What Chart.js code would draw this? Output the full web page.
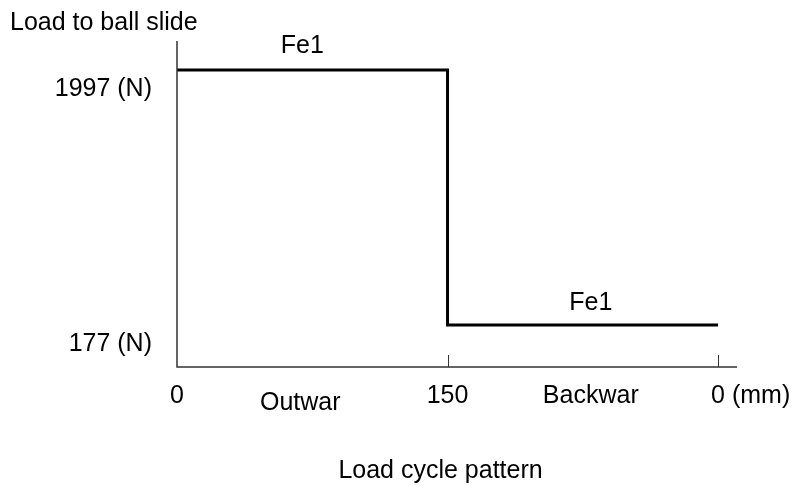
<!DOCTYPE html>
<html>
<head>
<meta charset="utf-8">
<script src="https://cdn.jsdelivr.net/npm/chart.js@4.4.1/dist/chart.umd.min.js"></script>
<style>
  html, body { margin: 0; padding: 0; background: #fff; }
  #wrap { width: 802px; height: 486px; position: relative; }
</style>
</head>
<body>
<div id="wrap"><canvas id="myChart"></canvas></div>
<script>
// stroke position (mm) and load (N) at each step
const positions = [0, 150, 300];
const loads = [1997, 177, 177];

// tick values along the stroke and what gets printed under them
const xTicks = [0, 150, 300];
const xTickLabels = ["0", "150", "0 (mm)"];
const yTicks = [1997, 177];
const yTickLabels = ["1997 (N)", "177 (N)"];

// phase names, centred between ticks
const phases = ["Outwar", "Backwar"];
const segmentLabels = ["Fe1", "Fe1"];

const FONT = "25px 'Liberation Sans', Arial, sans-serif";

const axesPlugin = {
  id: "customAxes",
  afterDraw(chart) {
    const { ctx, chartArea: area, scales: { x, y } } = chart;
    ctx.save();

    // axis lines
    ctx.strokeStyle = "#333";
    ctx.lineWidth = 1.5;
    ctx.beginPath();
    ctx.moveTo(area.left, area.top);
    ctx.lineTo(area.left, area.bottom);
    ctx.lineTo(area.right, area.bottom);
    ctx.stroke();

    // small inward ticks (skip the one sitting on the y axis)
    ctx.lineWidth = 1;
    xTicks.slice(1).forEach((v) => {
      const px = Math.round(x.getPixelForValue(v)) + 0.5;
      ctx.beginPath();
      ctx.moveTo(px, area.bottom);
      ctx.lineTo(px, area.bottom - 12);
      ctx.stroke();
    });

    ctx.fillStyle = "#000";
    ctx.font = FONT;
    ctx.textBaseline = "alphabetic";

    // x tick labels; the last one keeps its number under the tick
    const tickBase = area.bottom + 36;
    xTicks.forEach((v, i) => {
      const px = x.getPixelForValue(v);
      if (i === xTicks.length - 1) {
        ctx.textAlign = "left";
        ctx.fillText(xTickLabels[i], px - ctx.measureText("0").width / 2, tickBase);
      } else {
        ctx.textAlign = "center";
        ctx.fillText(xTickLabels[i], px, tickBase);
      }
    });

    // y tick labels sit just under their level
    ctx.textAlign = "right";
    yTicks.forEach((v, i) => {
      ctx.fillText(yTickLabels[i], area.left - 25, y.getPixelForValue(v) + 26);
    });

    // phase names
    ctx.textAlign = "center";
    ctx.fillText(phases[0], x.getPixelForValue((positions[0] + positions[1]) / 2) - 12, tickBase + 7);
    ctx.fillText(phases[1], x.getPixelForValue((positions[1] + positions[2]) / 2) + 8, tickBase);

    // load labels above each step
    ctx.fillText(segmentLabels[0], x.getPixelForValue((positions[0] + positions[1]) / 2) - 10, y.getPixelForValue(loads[0]) - 17);
    ctx.fillText(segmentLabels[1], x.getPixelForValue((positions[1] + positions[2]) / 2) + 8, y.getPixelForValue(loads[1]) - 15);

    // titles
    ctx.textAlign = "left";
    ctx.fillText("Load to ball slide", 10, 30);
    ctx.textAlign = "center";
    ctx.fillText("Load cycle pattern", x.getPixelForValue(150) - 7, 478);

    ctx.restore();
  }
};

new Chart(document.getElementById("myChart"), {
  type: "line",
  data: {
    datasets: [{
      data: positions.map((p, i) => ({ x: p, y: loads[i] })),
      // horizontal first, then the drop at the turning point
      stepped: "before",
      borderColor: "#000",
      borderWidth: 3,
      pointRadius: 0,
      fill: false
    }]
  },
  options: {
    responsive: true,
    maintainAspectRatio: false,
    animation: false,
    layout: { padding: { left: 177, right: 65, top: 41, bottom: 119 } },
    plugins: { legend: { display: false }, tooltip: { enabled: false } },
    scales: {
      x: { type: "linear", display: false, min: 0, max: 310.5 },
      y: { display: false, min: -123, max: 2204 }
    }
  },
  plugins: [axesPlugin]
});
</script>
</body>
</html>
